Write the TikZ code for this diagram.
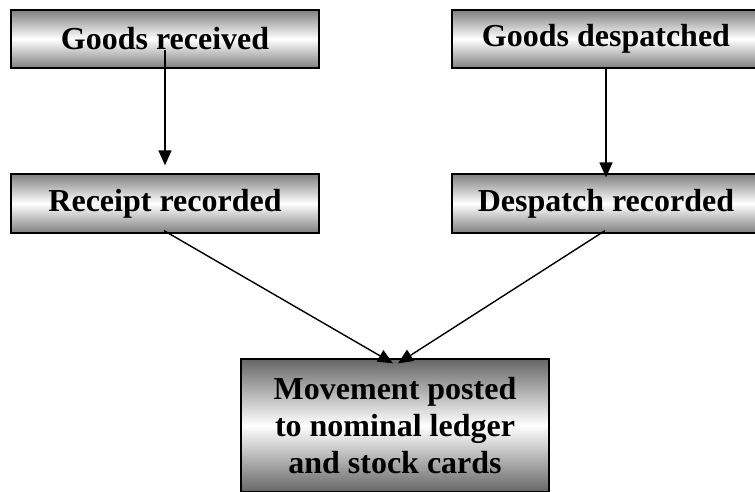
\documentclass[tikz,border=0pt]{standalone}
\usepackage{fontspec}
\setmainfont{Liberation Serif}
\usepackage{tikz}
\usetikzlibrary{arrows.meta}
\tikzstyle{stage}=[
        draw=black,
        line width=1.3pt,
        top color=black!50,
        bottom color=black!50,
        middle color=white,
        minimum width=308pt,
        align=center,
        font=\fontsize{32}{37}\selectfont\bfseries
]
\tikzstyle{flow}=[
        -{Triangle[width=13pt,length=15pt]},
        line width=1.4pt
]

\begin{document}
\begin{tikzpicture}[x=1pt,y=-1pt]
                    \useasboundingbox (0,0) rectangle (755,492);
                    \clip (0,0) rectangle (755,492);

                    \node[stage, minimum height=58pt] (received) at (165,39) {Goods received};
                    \node[stage, minimum height=58pt] (despatched) at (606,39) {Goods despatched};

                    \node[stage, minimum height=59pt] (receipt) at (165,203.5) {Receipt recorded};
                    \node[stage, minimum height=59pt] (despRec) at (606,203.5) {Despatch recorded};

                    \node[stage, minimum height=133pt, top color=black!60, bottom color=black!60, middle color=white] (posted) at (395,425.5) {Movement posted\\to nominal ledger\\and stock cards};

                    \draw[flow] ([yshift=-11pt]received.center) -- ([yshift=8pt]receipt.north);
                    \draw[flow] ([yshift=2pt]despatched.south) -- ([yshift=-4pt]despRec.north);

                    \draw[flow] ([xshift=-1pt,yshift=3pt]receipt.south) -- ([xshift=-2pt,yshift=-5pt]posted.north);
                    \draw[flow] ([xshift=-1pt,yshift=3pt]despRec.south) -- ([xshift=3pt,yshift=-5pt]posted.north);

                \end{tikzpicture}
\end{document}
